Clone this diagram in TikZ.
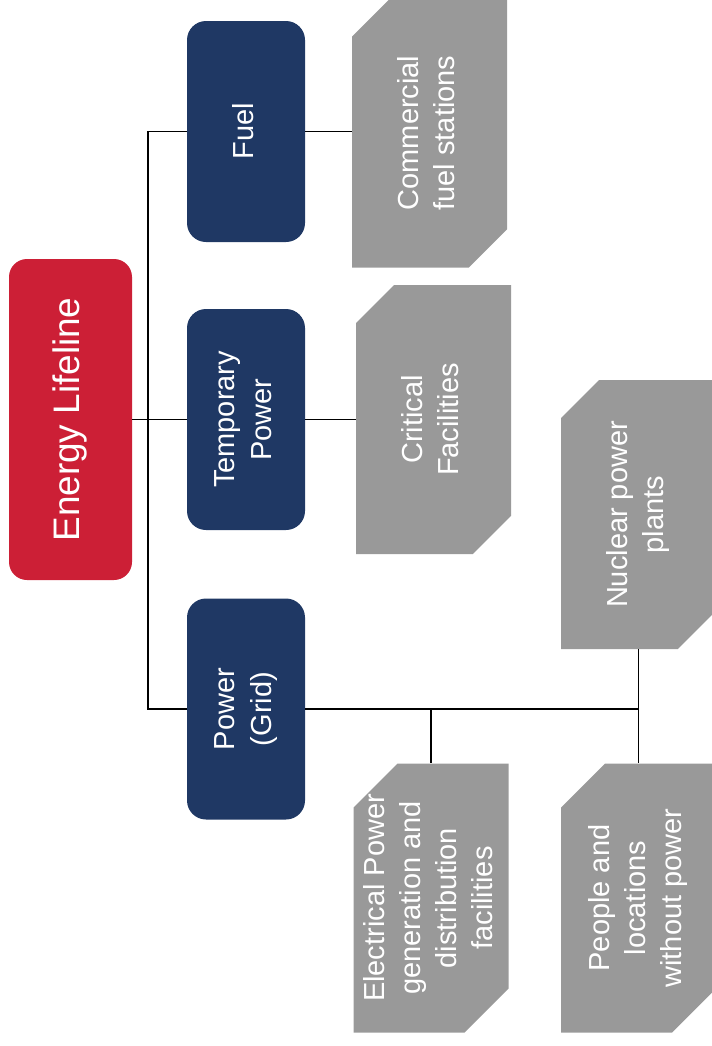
\documentclass[tikz,border=0pt]{standalone}
\usepackage{fontspec}
\setmainfont{Liberation Sans}
\usepackage{graphicx}
\usetikzlibrary{shapes.misc}
\definecolor{lifered}{RGB}{204,31,54}
\definecolor{gridnavy}{RGB}{31,56,100}
\definecolor{leafgray}{RGB}{153,153,153}
\newcommand{\uptext}[1]{\rotatebox{90}{\begin{tabular}{@{}c@{}}#1\end{tabular}}}

\begin{document}
\begin{tikzpicture}[
    rootbox/.style={fill=lifered, rounded corners=0.36cm, minimum width=2.46cm,
        minimum height=6.42cm, text=white, font=\fontsize{21}{25}\selectfont},
    hubbox/.style={fill=gridnavy, rounded corners=0.38cm, minimum width=2.36cm,
        minimum height=4.42cm, text=white, font=\fontsize{16.5}{21}\selectfont},
    leafbox/.style={chamfered rectangle, chamfered rectangle corners={north west,south east},
        chamfered rectangle xsep=0.44cm, chamfered rectangle ysep=0.44cm,
        inner xsep=-0.4cm, fill=leafgray, minimum width=3.1cm, minimum height=5.38cm,
        text=white, font=\fontsize{16.5}{20.5}\selectfont},
    link/.style={line width=0.6pt}
]
    \useasboundingbox (0,0) rectangle (14.24,-20.92);

    % root and the three lifeline components
    \node[rootbox] (root) at (1.41,-8.39) {\uptext{Energy Lifeline}};
    \node[hubbox] (fuel) at (4.92,-2.63) {\uptext{Fuel}};
    \node[hubbox] (temp) at (4.92,-8.39) {\uptext{Temporary\\Power}};
    \node[hubbox] (grid) at (4.92,-14.18) {\uptext{Power\\(Grid)}};

    % facilities
    \node[leafbox] (stations) at (8.59,-2.66) {\uptext{Commercial\\fuel stations}};
    \node[leafbox] (critical) at (8.67,-8.39) {\uptext{Critical\\Facilities}};
    \node[leafbox] (nuclear) at (12.77,-10.29) {\uptext{Nuclear power\\plants}};
    \node[leafbox] (electric) at (8.62,-17.96) {\uptext{Electrical Power\\generation and\\distribution\\facilities}};
    \node[leafbox] (people) at (12.77,-17.96) {\uptext{People and\\locations\\without power}};

    \coordinate (trunk) at (2.96,-8.39);
    \draw[link] (root.east) -- (trunk);
    \draw[link] (fuel.west) -| (trunk) |- (grid.west);
    \draw[link] (temp.west) -- (trunk);
    \draw[link] (fuel.east) -- (fuel.east -| stations.west);
    \draw[link] (temp.east) -- (critical.west);
    \draw[link] (grid.east) -| (nuclear.south);
    \draw[link] (grid.east -| electric.north) -- (electric.north);
    \draw[link] (grid.east -| people.north) -- (people.north);
\end{tikzpicture}
\end{document}
